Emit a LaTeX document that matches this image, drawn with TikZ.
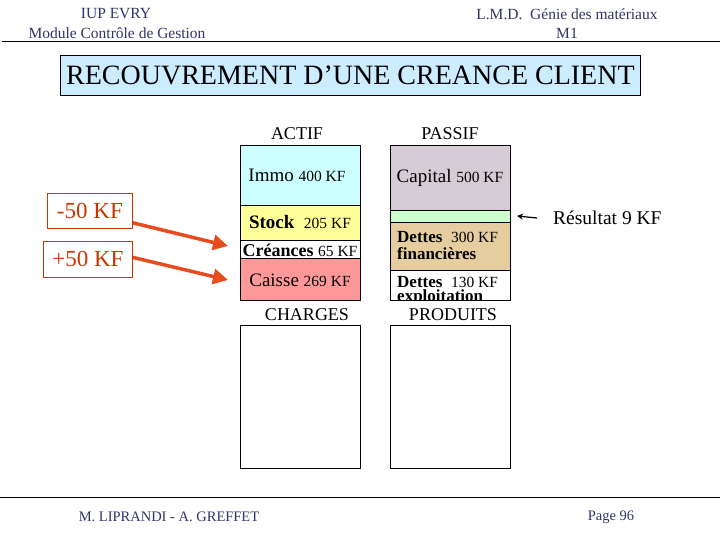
\documentclass[tikz,border=0pt]{standalone}
\usepackage{fontspec}
\setmainfont{Liberation Serif}
\usetikzlibrary{arrows.meta}
\definecolor{hdr}{HTML}{333366}
\definecolor{titlefill}{HTML}{CCECFF}
\definecolor{immofill}{HTML}{CCFFFF}
\definecolor{stockfill}{HTML}{FFFF99}
\definecolor{caissefill}{HTML}{FF9999}
\definecolor{capfill}{HTML}{D6CCD6}
\definecolor{resfill}{HTML}{CCFFCC}
\definecolor{detfill}{HTML}{E6CDA0}
\definecolor{redtxt}{HTML}{CC3300}
\definecolor{redarrow}{HTML}{E84C1E}
\newcommand{\fs}[1]{\fontsize{#1}{#1}\selectfont}
\tikzset{
  hdrtext/.style={text=hdr, inner sep=0pt, font=\fs{15.5}},
  foottext/.style={text=hdr, inner sep=0pt, font=\fs{14.5}},
  cell/.style={draw=black, line width=0.8pt, anchor=north west, minimum width=120pt, inner sep=0pt, outer sep=0pt},
  lbl/.style={inner sep=0pt, font=\fs{19}},
  collabel/.style={inner sep=0pt, font=\fs{18}},
  redbox/.style={draw=redtxt, line width=0.8pt, text=redtxt, inner sep=0pt, font=\fs{23}, anchor=north west},
  bigarrow/.style={draw=redarrow, line width=3.5pt, -{Triangle[length=15pt,width=15pt]}},
}
\begin{document}
\begin{tikzpicture}[x=1pt,y=-1pt]
\useasboundingbox (0,0) rectangle (720,540);
% header
\node[hdrtext] (h1) at (116,14) {IUP EVRY};
\node[hdrtext] (h2) at (117,33) {Module Contrôle de Gestion};
\node[hdrtext] (h3) at (567,14) {L.M.D.\ \ Génie des matériaux};
\node[hdrtext] (h4) at (567,33) {M1};
\coordinate (hl1) at (2,42);
\coordinate (hl2) at (720,42);
\draw[line width=1pt] (hl1) -- (hl2);
% title
\node[draw=black, line width=0.8pt, fill=titlefill, minimum width=580pt, minimum height=40pt, anchor=north west, inner sep=0pt, font=\fs{28}] (title) at (60,55) {RECOUVREMENT D’UNE CREANCE CLIENT};
% actif column
\node[collabel] (actif) at (297,134) {ACTIF};
\node[cell, fill=immofill, minimum height=60pt] (immo) at (240,145) {};
\node[cell, fill=stockfill, minimum height=35pt] (stock) at (240,205) {};
\node[cell, fill=white, minimum height=18pt] (cre) at (240,240) {};
\node[cell, fill=caissefill, minimum height=42pt] (cai) at (240,258) {};
\node[lbl] (timmo) at (297,175) {Immo {\fs{15.5}400 KF}};
\node[lbl] (tstock) at (300,222) {\textbf{Stock}\ \ {\fs{15.5}205 KF}};
\node[lbl, font=\fs{18}] (tcre) at (300,250) {\textbf{Créances} {\fs{15.5}65 KF}};
\node[lbl] (tcai) at (300,280) {Caisse {\fs{15.5}269 KF}};
% passif column
\node[collabel] (passif) at (450,134) {PASSIF};
\node[cell, fill=capfill, minimum height=65pt] (cap) at (390,145) {};
\node[cell, fill=resfill, minimum height=12pt] (res) at (390,210) {};
\node[cell, fill=detfill, minimum height=48pt] (detf) at (390,222) {};
\node[cell, fill=white, minimum height=30pt] (dete) at (390,270) {};
\node[lbl] (tcap) at (450,178) {Capital {\fs{15.5}500 KF}};
\node[lbl, anchor=west, font=\fs{17}\bfseries] (tdetf1) at (397,237) {Dettes\ \ {\mdseries\fs{15.5}300 KF}};
\node[lbl, anchor=west, font=\fs{17}\bfseries] (tdetf2) at (397,254) {financières};
\begin{scope}
\clip (390,270) rectangle (510,300);
\node[lbl, anchor=west, font=\fs{17}\bfseries] (tdete1) at (397,282) {Dettes\ \ {\mdseries\fs{15.5}130 KF}};
\node[lbl, anchor=west, font=\fs{17}\bfseries] (tdete2) at (397,297) {exploitation};
\end{scope}
\node[inner sep=0pt, anchor=west, font=\fs{19.5}] (rlab) at (553,218) {Résultat 9 KF};
\draw[line width=1.2pt, -{Stealth[length=6pt,width=6pt]}] ([xshift=-16pt]rlab.west) -- ([xshift=7pt]res.east);
% charges / produits
\node[collabel] (charges) at (307,315) {CHARGES};
\node[collabel] (produits) at (453,315) {PRODUITS};
\node[cell, fill=white, minimum height=143pt] (chg) at (240,325) {};
\node[cell, fill=white, minimum height=143pt] (prd) at (390,325) {};
% red boxes
\node[redbox, minimum width=85pt, minimum height=35pt] (m50) at (47,193) {-50 KF};
\node[redbox, minimum width=89pt, minimum height=36pt] (p50) at (43,241) {+50 KF};
\draw[bigarrow] ([yshift=6pt]m50.south east) -- ([xshift=-12pt,yshift=3pt]cre.west);
\draw[bigarrow] ([yshift=2pt]p50.east) -- ([xshift=-12pt,yshift=-1pt]cai.west);
% footer
\coordinate (fl1) at (0,497);
\coordinate (fl2) at (720,497);
\draw[line width=1pt] (fl1) -- (fl2);
\node[foottext] (f1) at (169,517) {M. LIPRANDI - A. GREFFET};
\node[foottext] (f2) at (611,517) {Page 96};
\end{tikzpicture}
\end{document}
